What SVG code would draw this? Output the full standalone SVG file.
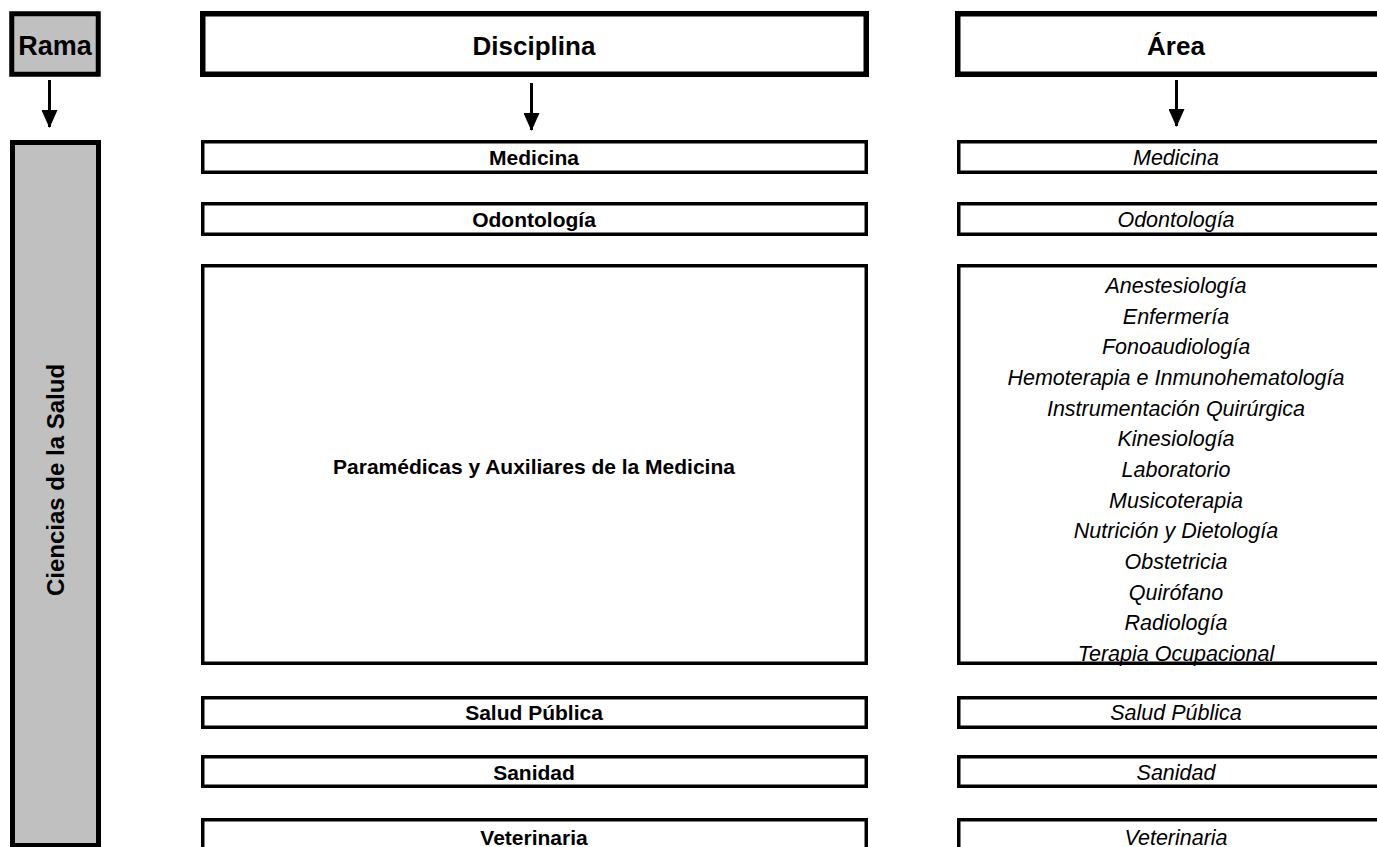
<svg xmlns="http://www.w3.org/2000/svg" width="1377" height="847" viewBox="0 0 1377 847">
<defs>
<style>
.hdr{fill:#fff;stroke:#000;stroke-width:5.5}
.gray{fill:#c0c0c0;stroke:#000;stroke-width:5}
.box{fill:#fff;stroke:#000;stroke-width:3.5}
.th{font-family:"Liberation Sans",Arial,sans-serif;font-weight:bold;font-size:26px;text-anchor:middle}
.tb{font-family:"Liberation Sans",Arial,sans-serif;font-weight:bold;font-size:21px;text-anchor:middle}
.ti{font-family:"Liberation Sans",Arial,sans-serif;font-style:italic;font-size:21.5px;text-anchor:middle}
.conn{stroke:#000;stroke-width:3;fill:none}
</style>
<marker id="ah" markerUnits="userSpaceOnUse" markerWidth="18" markerHeight="16" refX="17" refY="8" orient="auto" viewBox="0 0 18 16">
<path d="M0,0 L18,8 L0,16 Z" fill="#000"/>
</marker>
</defs>
<rect width="1377" height="847" fill="#fff"/>
<g id="rama"><rect class="gray" x="11.75" y="13.75" width="86.5" height="60.5"/><text class="th" x="55" y="54.5" style="font-size:27px">Rama</text></g>
<g id="disciplina"><rect class="hdr" x="202.75" y="13.75" width="663.5" height="60.5"/><text class="th" x="534" y="54.5">Disciplina</text></g>
<g id="area"><rect class="hdr" x="957.75" y="13.75" width="440" height="60.5"/><text class="th" x="1176" y="54.5">Área</text></g>
<g id="ciencias"><rect class="gray" x="12.5" y="142.5" width="86" height="703"/><text class="th" style="font-size:24px" transform="translate(64,480) rotate(-90)">Ciencias de la Salud</text></g>
<g id="d-medicina"><rect class="box" x="202.75" y="141.75" width="663.5" height="30.5"/><text class="tb" x="534" y="164.5">Medicina</text></g>
<g id="d-odontologia"><rect class="box" x="202.75" y="203.75" width="663.5" height="30.5"/><text class="tb" x="534" y="227">Odontología</text></g>
<g id="d-paramedicas"><rect class="box" x="202.75" y="265.75" width="663.5" height="397.5"/><text class="tb" x="534" y="473.5">Paramédicas y Auxiliares de la Medicina</text></g>
<g id="d-salud"><rect class="box" x="202.75" y="697.75" width="663.5" height="29.5"/><text class="tb" x="534" y="719.5">Salud Pública</text></g>
<g id="d-sanidad"><rect class="box" x="202.75" y="756.75" width="663.5" height="29.5"/><text class="tb" x="534" y="779.5">Sanidad</text></g>
<g id="d-veterinaria"><rect class="box" x="202.75" y="819.75" width="663.5" height="30"/><text class="tb" x="534" y="844.5">Veterinaria</text></g>
<g id="a-medicina"><rect class="box" x="958.75" y="141.75" width="440" height="30.5"/><text class="ti" x="1176" y="164.5">Medicina</text></g>
<g id="a-odontologia"><rect class="box" x="958.75" y="203.75" width="440" height="30.5"/><text class="ti" x="1176" y="227">Odontología</text></g>
<g id="a-paramedicas"><rect class="box" x="958.75" y="265.75" width="440" height="397.5"/>
<text class="ti" x="1176" y="293">Anestesiología</text>
<text class="ti" x="1176" y="323.7">Enfermería</text>
<text class="ti" x="1176" y="354.3">Fonoaudiología</text>
<text class="ti" x="1176" y="385">Hemoterapia e Inmunohematología</text>
<text class="ti" x="1176" y="415.7">Instrumentación Quirúrgica</text>
<text class="ti" x="1176" y="446.3">Kinesiología</text>
<text class="ti" x="1176" y="477">Laboratorio</text>
<text class="ti" x="1176" y="507.7">Musicoterapia</text>
<text class="ti" x="1176" y="538.3">Nutrición y Dietología</text>
<text class="ti" x="1176" y="569">Obstetricia</text>
<text class="ti" x="1176" y="599.7">Quirófano</text>
<text class="ti" x="1176" y="630.3">Radiología</text>
<text class="ti" x="1176" y="661">Terapia Ocupacional</text>
</g>
<g id="a-salud"><rect class="box" x="958.75" y="697.75" width="440" height="29.5"/><text class="ti" x="1176" y="719.5">Salud Pública</text></g>
<g id="a-sanidad"><rect class="box" x="958.75" y="756.75" width="440" height="29.5"/><text class="ti" x="1176" y="779.5">Sanidad</text></g>
<g id="a-veterinaria"><rect class="box" x="958.75" y="819.75" width="440" height="30"/><text class="ti" x="1176" y="844.5">Veterinaria</text></g>
<g id="connectors">
<line class="conn" x1="49.5" y1="80" x2="49.5" y2="127" marker-end="url(#ah)"/>
<line class="conn" x1="531.5" y1="83" x2="531.5" y2="130" marker-end="url(#ah)"/>
<line class="conn" x1="1176.5" y1="80" x2="1176.5" y2="126" marker-end="url(#ah)"/>
</g>
</svg>
